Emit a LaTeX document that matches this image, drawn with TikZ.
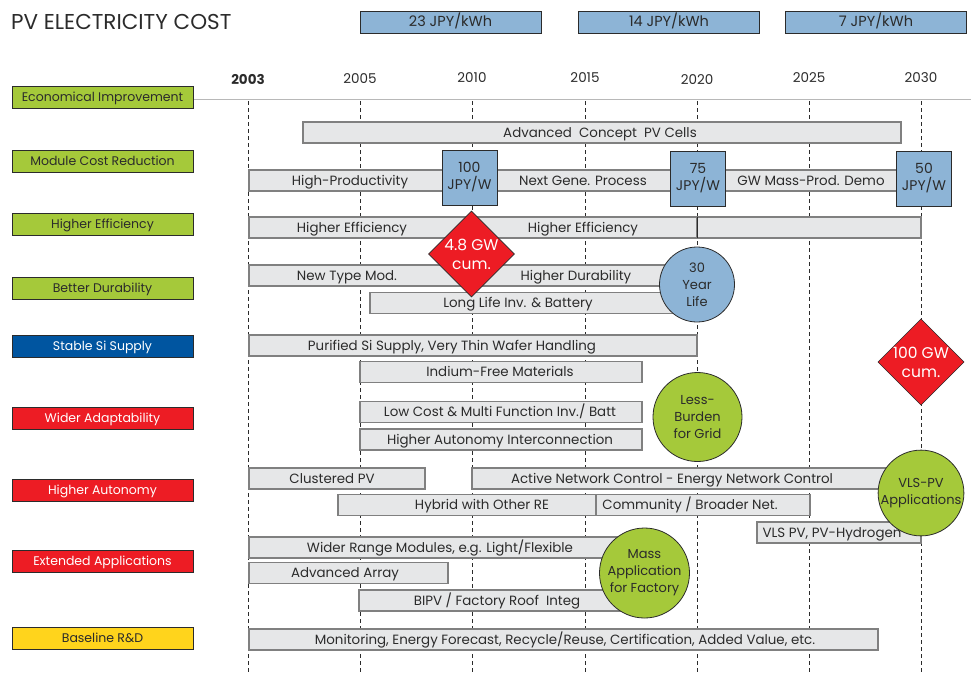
\documentclass[tikz,border=0pt]{standalone}
\usepackage{fontspec}
\setmainfont{Poppins}
\usetikzlibrary{shapes.geometric}

\definecolor{catgreen}{HTML}{A5C93A}
\definecolor{catblue}{HTML}{0055A0}
\definecolor{catred}{HTML}{ED1C24}
\definecolor{catyellow}{HTML}{FFD41C}
\definecolor{costblue}{HTML}{8DB4D6}
\definecolor{barfill}{HTML}{E6E7E8}
\definecolor{barline}{HTML}{808080}
\definecolor{ink}{HTML}{2B2B2B}

% a grey time bar (name, from x, to x, centre y, text x, text)
\newcommand\gbar[6]{%
  \node[gbarbox, minimum width={(#3)-(#2)}, anchor=west] (#1) at (#2,#4) {};
  \node[bartext] (#1t) at (#5,#4) {#6};}

\begin{document}
\begin{tikzpicture}[x=1pt, y=-1pt,
  every node/.style={font=\fontsize{12.5}{15}\selectfont, text=ink},
  catbox/.style={draw=ink, line width=0.8pt, minimum width=181, minimum height=22, inner sep=0, outer sep=0, text height=10.5, text depth=2},
  costbox/.style={draw=ink, fill=costblue, line width=0.8pt, minimum width=181, minimum height=22, inner sep=0, outer sep=0, text height=11, text depth=2, font=\fontsize{14.5}{17}\selectfont},
  gbarbox/.style={draw=barline, fill=barfill, line width=1.2pt, minimum height=21, inner sep=0, outer sep=0},
  bartext/.style={inner sep=0, text height=11, text depth=2, font=\fontsize{13.4}{16}\selectfont},
  jpybox/.style={draw=ink, fill=costblue, line width=0.8pt, minimum width=55, minimum height=55, inner sep=0, align=center, font=\fontsize{14}{17}\selectfont},
  milestone/.style={circle, draw=ink, line width=0.8pt, inner sep=0, align=center, font=\fontsize{13}{17}\selectfont},
  gwmark/.style={diamond, aspect=1, draw=ink, fill=catred, line width=0.6pt, inner sep=0, minimum width=86, minimum height=86, align=center, text=white, font=\fontsize{15.5}{19}\selectfont},
  yearlbl/.style={font=\fontsize{13.5}{16}\selectfont},
  yearline/.style={draw=ink, dashed, dash pattern=on 4pt off 3pt, line width=0.8pt}
]
\useasboundingbox (0,0) rectangle (971,673);

% title and cost levels
\node[anchor=west, inner sep=0, font=\fontsize{21.5}{26}\selectfont] (title) at (11,22) {PV ELECTRICITY COST};
\node[costbox] (c23) at (450.5,22) {23 JPY/kWh};
\node[costbox] (c14) at (669,22) {14 JPY/kWh};
\node[costbox] (c7) at (876,22) {7 JPY/kWh};

% time axis
\draw[draw=black!28, line width=0.8pt] (193,99) -- (971,99);
\node[yearlbl, font=\bfseries\fontsize{13.5}{16}\selectfont] (y03) at (248,79) {2003};
\node[yearlbl] (y05) at (360,79) {2005};
\node[yearlbl] (y10) at (472,78) {2010};
\node[yearlbl] (y15) at (585,78) {2015};
\node[yearlbl] (y20) at (697,80) {2020};
\node[yearlbl] (y25) at (809,78) {2025};
\node[yearlbl] (y30) at (921,78) {2030};
\foreach \x in {248,360,472,585,697,809,921}
  \draw[yearline] (\x,101) -- (\x,673);

% categories
\node[catbox, fill=catgreen] (k1) at (102.5,97) {Economical Improvement};
\node[catbox, fill=catgreen] (k2) at (102.5,161) {Module Cost Reduction};
\node[catbox, fill=catgreen] (k3) at (102.5,224.5) {Higher Efficiency};
\node[catbox, fill=catgreen] (k4) at (102.5,288) {Better Durability};
\node[catbox, fill=catblue, text=white] (k5) at (102.5,346) {Stable Si Supply};
\node[catbox, fill=catred, text=white] (k6) at (102.5,418.5) {Wider Adaptability};
\node[catbox, fill=catred, text=white] (k7) at (102.5,490.5) {Higher Autonomy};
\node[catbox, fill=catred, text=white] (k8) at (102.5,561) {Extended Applications};
\node[catbox, fill=catyellow] (k9) at (102.5,638.5) {Baseline R\&D};

% bars
\gbar{adv}{303}{901}{132.5}{600}{Advanced\ \ Concept\ \ PV Cells}
\gbar{hp}{249}{470}{180.5}{350}{High-Productivity}
\gbar{ng}{470}{698}{180.5}{583}{Next Gene. Process}
\gbar{gw}{698}{921}{180.5}{811}{GW Mass-Prod. Demo}
\gbar{hea}{249}{697}{227.5}{352}{Higher Efficiency}
\node[bartext] (heat2) at (583,227.5) {Higher Efficiency};
\gbar{heb}{697}{921}{227.5}{809}{}
\draw[ink, line width=1pt] (hea.north east) -- (hea.south east);
\gbar{nt}{249}{690}{275.5}{347}{New Type Mod.}
\node[bartext] (ntt2) at (576,275.5) {Higher Durability};
\gbar{ll}{370}{690}{303}{518}{Long Life Inv. \& Battery}
\gbar{si}{249}{697}{345.5}{452}{Purified Si Supply, Very Thin Wafer Handling}
\gbar{inf}{360}{642}{372}{500}{Indium-Free Materials}
\gbar{lc}{360}{642}{412}{500}{Low Cost \& Multi Function Inv./ Batt}
\gbar{hai}{360}{642}{439.5}{500}{Higher Autonomy Interconnection}
\gbar{cl}{249}{425}{478.5}{332}{Clustered PV}
\gbar{anc}{472}{905}{478.5}{672}{Active Network Control - Energy Network Control}
\gbar{hy}{338}{596}{505}{482}{Hybrid with Other RE}
\gbar{co}{596}{810}{505}{690}{Community / Broader Net.}
\gbar{vl}{757}{921}{532.5}{832}{VLS PV, PV-Hydrogen}
\gbar{wr}{249}{630}{547.5}{440}{Wider Range Modules, e.g. Light/Flexible}
\gbar{aa}{249}{448}{573}{345}{Advanced Array}
\gbar{bi}{359}{630}{600.5}{497}{BIPV / Factory Roof\ \ Integ}
\gbar{mo}{249}{878}{639.5}{565}{Monitoring, Energy Forecast, Recycle/Reuse, Certification, Added Value, etc.}

% module price targets
\node[jpybox] (p100) at (469.5,177.5) {100\\JPY/W};
\node[jpybox] (p75) at (698,178.5) {75\\JPY/W};
\node[jpybox] (p50) at (924,178.5) {50\\JPY/W};

% milestones
\node[gwmark] (gw48) at (471.5,254) {4.8 GW\\cum.};
\node[gwmark] (gw100) at (921,362) {100 GW\\cum.};
\node[milestone, fill=costblue, minimum size=75] (life) at (697,284.5) {30\\Year\\Life};
\node[milestone, fill=catgreen, minimum size=89] (grid) at (697.5,417) {Less-\\Burden\\for Grid};
\node[milestone, fill=catgreen, minimum size=83] (vls) at (921,493) {VLS-PV\\Applications};
\node[milestone, fill=catgreen, minimum size=90] (mass) at (644.5,573) {Mass\\Application\\for Factory};
\end{tikzpicture}
\end{document}
